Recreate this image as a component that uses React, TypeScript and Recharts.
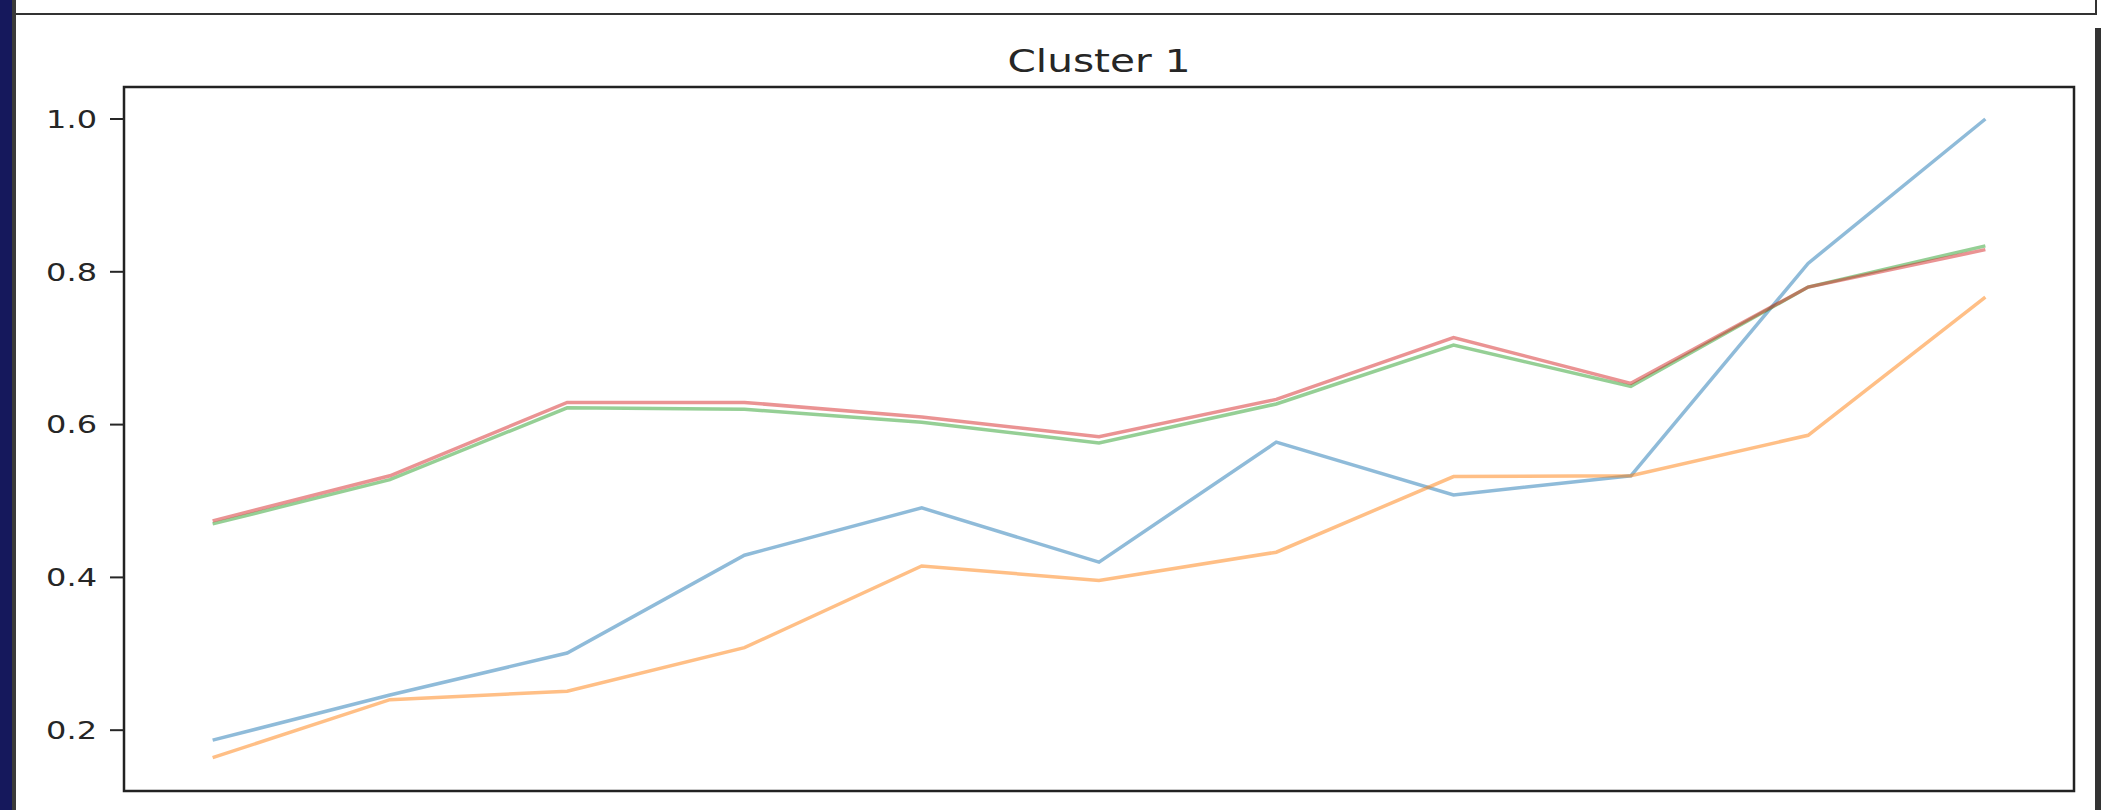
import React from "react";
import { LineChart, Line, XAxis, YAxis, ReferenceArea } from "recharts";

// cluster 1 profiles, one value per feature index 0..10
const featureIdx = [0, 1, 2, 3, 4, 5, 6, 7, 8, 9, 10];
const blueSeries = [0.187, 0.246, 0.301, 0.429, 0.491, 0.42, 0.577, 0.508, 0.533, 0.811, 1.0];
const orangeSeries = [0.164, 0.24, 0.251, 0.308, 0.415, 0.396, 0.433, 0.532, 0.533, 0.586, 0.767];
const greenSeries = [0.47, 0.528, 0.622, 0.62, 0.603, 0.576, 0.627, 0.704, 0.65, 0.78, 0.834];
const redSeries = [0.474, 0.533, 0.629, 0.629, 0.61, 0.584, 0.633, 0.714, 0.654, 0.78, 0.829];
const yTicks = [0.2, 0.4, 0.6, 0.8, 1.0];

const Y_MIN = 0.1204;
const Y_MAX = 1.0419;

const rows = featureIdx.map((x, i) => ({
  x,
  blue: blueSeries[i],
  orange: orangeSeries[i],
  green: greenSeries[i],
  red: redSeries[i],
}));

const FONT = "'DejaVu Sans', sans-serif";

const YTick = (props: any) => {
  const { x, y, payload } = props;
  return (
    <g transform={`translate(${x},${y}) scale(1.28,1)`}>
      <text
        x={0}
        y={0}
        textAnchor="end"
        dominantBaseline="central"
        fontFamily={FONT}
        fontSize={25}
        fill="#262626"
      >
        {Number(payload.value).toFixed(1)}
      </text>
    </g>
  );
};

export default function App() {
  return (
    <div
      style={{
        position: "absolute",
        left: 0,
        top: 0,
        width: 2101,
        height: 810,
        background: "#fff",
        overflow: "hidden",
      }}
    >
      {/* screenshot chrome */}
      <div style={{ position: "absolute", left: 0, top: 0, width: 12, height: 810, background: "#15185c" }} />
      <div style={{ position: "absolute", left: 12, top: 0, width: 4, height: 810, background: "#3a3a3a" }} />
      <div style={{ position: "absolute", left: 16, top: 13, width: 2080, height: 2, background: "#333" }} />
      <div style={{ position: "absolute", left: 2095, top: 0, width: 2, height: 15, background: "#333" }} />
      <div style={{ position: "absolute", left: 2095, top: 28, width: 6, height: 782, background: "#333" }} />

      <div
        style={{
          position: "absolute",
          left: 1099,
          top: 43,
          transform: "translateX(-50%) scaleX(1.29)",
          fontFamily: FONT,
          fontSize: 31.5,
          color: "#262626",
          whiteSpace: "nowrap",
          lineHeight: "36px",
        }}
      >
        Cluster 1
      </div>

      <LineChart
        width={2101}
        height={810}
        data={rows}
        margin={{ top: 87, right: 27, bottom: 19, left: 0 }}
        style={{ position: "absolute", left: 0, top: 0 }}
      >
        <XAxis dataKey="x" type="number" domain={[-0.5, 10.5]} hide allowDataOverflow />
        <YAxis
          width={124}
          type="number"
          domain={[Y_MIN, Y_MAX]}
          ticks={yTicks}
          allowDataOverflow
          axisLine={false}
          tickSize={14}
          tickMargin={13}
          tickLine={{ stroke: "#262626", strokeWidth: 2 }}
          tick={<YTick />}
          interval={0}
        />
        <Line type="linear" dataKey="blue" stroke="#1f77b4" strokeOpacity={0.5} strokeWidth={3.5} dot={false} isAnimationActive={false} />
        <Line type="linear" dataKey="orange" stroke="#ff7f0e" strokeOpacity={0.5} strokeWidth={3.5} dot={false} isAnimationActive={false} />
        <Line type="linear" dataKey="green" stroke="#2ca02c" strokeOpacity={0.5} strokeWidth={3.5} dot={false} isAnimationActive={false} />
        <Line type="linear" dataKey="red" stroke="#d62728" strokeOpacity={0.5} strokeWidth={3.5} dot={false} isAnimationActive={false} />
        <ReferenceArea
          x1={-0.5}
          x2={10.5}
          y1={Y_MIN}
          y2={Y_MAX}
          fill="none"
          fillOpacity={0}
          stroke="#222"
          strokeWidth={2.5}
          ifOverflow="visible"
        />
      </LineChart>
    </div>
  );
}
